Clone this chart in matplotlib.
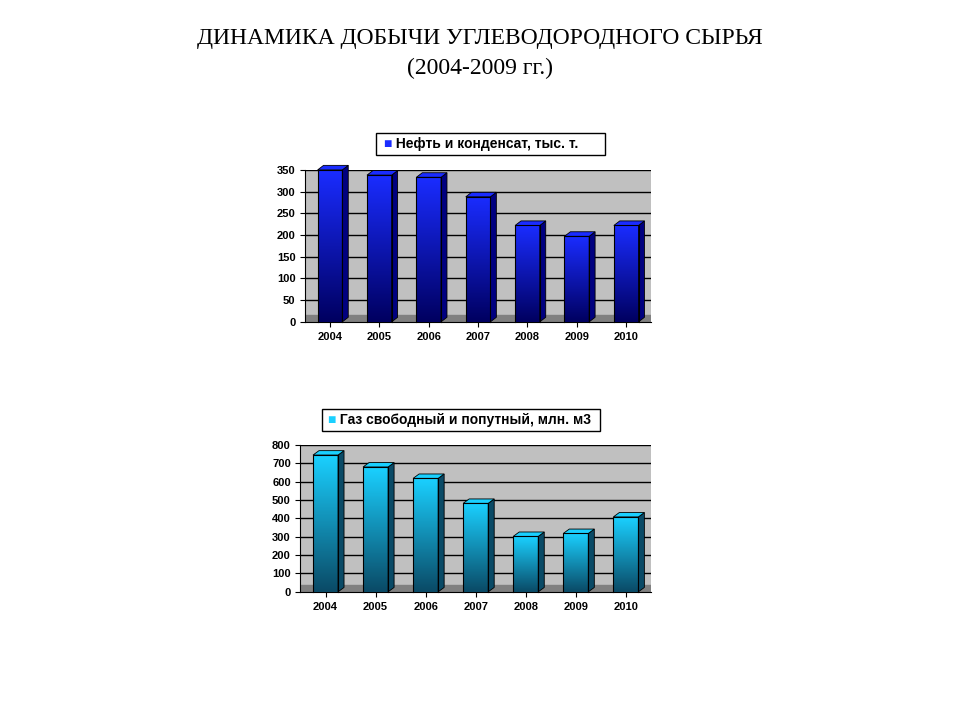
import matplotlib
matplotlib.use('Agg')
import matplotlib.pyplot as plt
import numpy as np

years = ['2004', '2005', '2006', '2007', '2008', '2009', '2010']
oil = [350, 338, 333, 288, 222, 197, 222]
gas = [745, 680, 618, 482, 302, 318, 408]

plt.rcParams['font.family'] = ['Liberation Sans', 'DejaVu Sans']

fig = plt.figure(figsize=(9.6, 7.2), dpi=100)
fig.text(0.5, 0.947, 'ДИНАМИКА ДОБЫЧИ УГЛЕВОДОРОДНОГО СЫРЬЯ', ha='center',
         va='center', fontsize=17, family='Liberation Serif')
fig.text(0.5, 0.905, '(2004-2009 гг.)', ha='center', va='center', fontsize=17,
         family='Liberation Serif')


def draw_chart(rect, values, ymax, step, light, dark, side, label, legend_xy):
    ax = fig.add_axes(rect)
    ax.set_facecolor('#c0c0c0')
    x = np.arange(len(values))
    ax.set_yticks(np.arange(0, ymax + 1, step))
    ax.yaxis.grid(True, color='black', linewidth=1)
    ax.set_axisbelow(True)
    # floor band
    ax.axhspan(0, ymax * 0.045, color='#808080', zorder=1)
    w = 0.5
    dx, dy = 0.12, ymax * 0.03
    cmap = matplotlib.colors.LinearSegmentedColormap.from_list('g', [dark, light])
    for xi, v in zip(x, values):
        # vertical gradient: dark at bottom, light at top
        grad = np.linspace(0, 1, 100).reshape(-1, 1)
        ax.imshow(grad, extent=[xi - w / 2, xi + w / 2, 0, v], origin='lower',
                  aspect='auto', cmap=cmap, zorder=3)
        ax.plot([xi - w / 2, xi - w / 2, xi + w / 2, xi + w / 2],
                [0, v, v, 0], color='black', lw=0.8, zorder=4, clip_on=False)
        ax.fill([xi + w / 2, xi + w / 2 + dx, xi + w / 2 + dx, xi + w / 2],
                [0, dy, v + dy, v], color=side, ec='black', lw=0.6, zorder=3,
                clip_on=False)
        ax.fill([xi - w / 2, xi - w / 2 + dx, xi + w / 2 + dx, xi + w / 2],
                [v, v + dy, v + dy, v], color=light, ec='black', lw=0.6, zorder=3,
                clip_on=False)
    ax.set_xlim(-0.5, len(values) - 0.5)
    ax.set_ylim(0, ymax)
    ax.set_xticks(x)
    ax.set_xticklabels(years, fontsize=8, fontweight='bold')
    ax.tick_params(axis='y', labelsize=8)
    for t in ax.get_yticklabels():
        t.set_fontweight('bold')
    for s in ['top', 'right']:
        ax.spines[s].set_visible(False)
    fig.text(legend_xy[0], legend_xy[1], '■', ha='right', va='center',
             fontsize=10, color=light)
    fig.text(legend_xy[0], legend_xy[1], ' ' + label, ha='left', va='center',
             fontsize=10, fontweight='bold')
    return ax


draw_chart([0.318, 0.553, 0.36, 0.211], oil, 350, 50, '#1a2cff', '#000060',
           '#000080', 'Нефть и конденсат, тыс. т.', (0.408, 0.80))
draw_chart([0.313, 0.178, 0.365, 0.204], gas, 800, 100, '#1ad0ff', '#0a4a66',
           '#0a4a66', 'Газ свободный и попутный, млн. м3', (0.350, 0.417))

# legend frames
for x0, x1, yc in [(0.392, 0.63, 0.80), (0.335, 0.625, 0.417)]:
    fig.patches.append(plt.Rectangle((x0, yc - 0.015), x1 - x0, 0.03,
                                     transform=fig.transFigure, fill=False,
                                     ec='black', lw=1))

fig.savefig('out.png', dpi=100)
